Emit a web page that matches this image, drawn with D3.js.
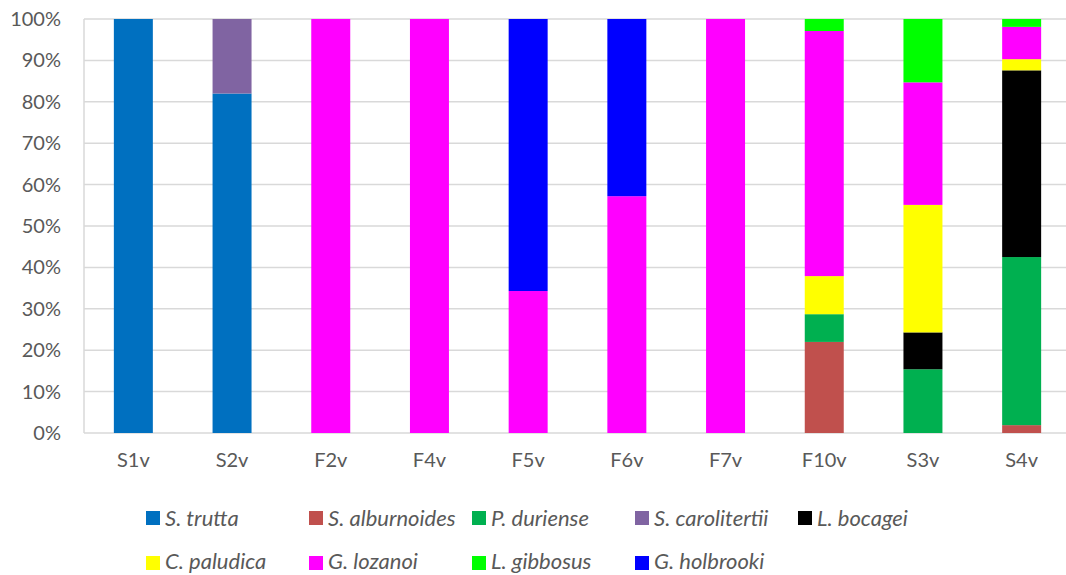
<!DOCTYPE html>
<html>
<head>
<meta charset="utf-8">
<script src="https://cdn.jsdelivr.net/npm/d3@7/dist/d3.min.js"></script>
<style>
  html, body { margin: 0; padding: 0; background: #fff; }
  svg { display: block; }
  text { font-family: Lato, "Open Sans", sans-serif; fill: #595959; }
</style>
</head>
<body>
<svg id="chart" width="1066" height="575"></svg>
<script>
const categories = ["S1v", "S2v", "F2v", "F4v", "F5v", "F6v", "F7v", "F10v", "S3v", "S4v"];
const seriesNames = ["S. trutta", "S. alburnoides", "P. duriense", "S. carolitertii", "L. bocagei",
                     "C. paludica", "G. lozanoi", "L. gibbosus", "G. holbrooki"];
const seriesColors = ["#0070C0", "#C0504D", "#00B050", "#8064A2", "#000000",
                      "#FFFF00", "#FF00FF", "#00FF00", "#0000FF"];
// values in % per category (same order as categories)
const sTrutta       = [100, 82, 0, 0, 0, 0, 0, 0, 0, 0];
const sAlburnoides  = [0, 0, 0, 0, 0, 0, 0, 22.0, 0, 1.9];
const pDuriense     = [0, 0, 0, 0, 0, 0, 0, 6.7, 15.4, 40.6];
const sCarolitertii = [0, 18, 0, 0, 0, 0, 0, 0, 0, 0];
const lBocagei      = [0, 0, 0, 0, 0, 0, 0, 0, 8.9, 45.1];
const cPaludica     = [0, 0, 0, 0, 0, 0, 0, 9.2, 30.8, 2.7];
const gLozanoi      = [0, 0, 100, 100, 34.3, 57.2, 100, 59.2, 29.6, 7.8];
const lGibbosus     = [0, 0, 0, 0, 0, 0, 0, 2.9, 15.3, 1.9];
const gHolbrooki    = [0, 0, 0, 0, 65.7, 42.8, 0, 0, 0, 0];
const yTicks = [0, 10, 20, 30, 40, 50, 60, 70, 80, 90, 100];

const seriesValues = [sTrutta, sAlburnoides, pDuriense, sCarolitertii, lBocagei,
                      cPaludica, gLozanoi, lGibbosus, gHolbrooki];

const table = categories.map((c, i) => {
  const row = { cat: c };
  seriesNames.forEach((s, j) => { row[s] = seriesValues[j][i]; });
  return row;
});

const svg = d3.select("#chart");
const pLeft = 84, pRight = 1071, pTop = 19, pBottom = 433;

const x = d3.scaleBand().domain(categories).range([pLeft, pRight])
  .paddingInner(0.605).paddingOuter(0.3025);
const y = d3.scaleLinear().domain([0, 100]).range([pBottom, pTop]);

// gridlines
svg.append("g").selectAll("line").data(yTicks).join("line")
  .attr("x1", pLeft).attr("x2", 1066)
  .attr("y1", d => y(d)).attr("y2", d => y(d))
  .attr("stroke", "#d9d9d9").attr("stroke-width", 1.5);

// left axis line
svg.append("line").attr("x1", pLeft).attr("x2", pLeft).attr("y1", pTop).attr("y2", pBottom)
  .attr("stroke", "#d9d9d9").attr("stroke-width", 1.5);

// y axis labels
const yAxis = d3.axisLeft(y).tickValues(yTicks).tickFormat(d => d + "%").tickSize(0).tickPadding(0);
const gy = svg.append("g").attr("transform", `translate(${pLeft - 23},0)`).call(yAxis);
gy.select(".domain").remove();
gy.selectAll("text").style("font-size", "20px").attr("fill", "#595959")
  .style("font-family", "Lato, 'Open Sans', sans-serif");

// x axis labels
const xAxis = d3.axisBottom(x).tickSize(0).tickPadding(0);
const gx = svg.append("g").attr("transform", `translate(0,${pBottom + 20})`).call(xAxis);
gx.select(".domain").remove();
gx.selectAll("text").style("font-size", "20px").attr("fill", "#595959")
  .style("font-family", "Lato, 'Open Sans', sans-serif");

// stacked bars
const stack = d3.stack().keys(seriesNames);
const stacked = stack(table);
svg.append("g").selectAll("g").data(stacked).join("g")
  .attr("fill", (d, i) => seriesColors[i])
  .selectAll("rect").data(d => d).join("rect")
  .attr("x", d => x(d.data.cat))
  .attr("width", x.bandwidth())
  .attr("y", d => y(d[1]))
  .attr("height", d => Math.max(0, y(d[0]) - y(d[1])));

// legend
const legendCols = 5, colW = 163, legX = 146, legY = [511, 556], legTextY = [15, 13];
const leg = svg.append("g").selectAll("g").data(seriesNames).join("g")
  .attr("transform", (d, i) => `translate(${legX + (i % legendCols) * colW},${legY[Math.floor(i / legendCols)]})`);
leg.append("rect").attr("width", 14).attr("height", 14).attr("fill", (d, i) => seriesColors[i]);
leg.append("text").attr("x", 19).attr("y", (d, i) => legTextY[Math.floor(i / legendCols)])
  .style("font-size", "22px").style("font-style", "italic")
  .text(d => d);
</script>
</body>
</html>
